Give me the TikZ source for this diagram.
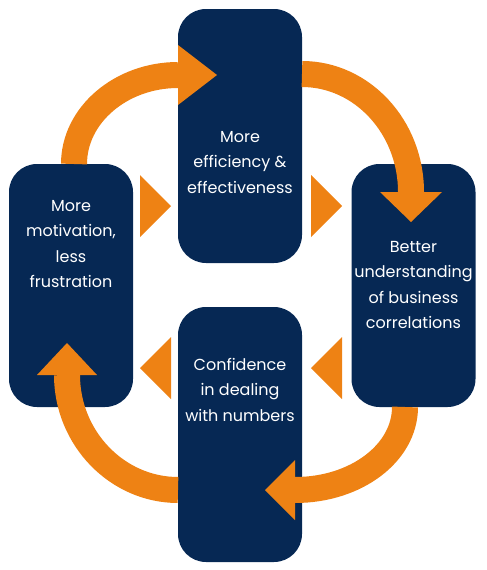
\documentclass[tikz,border=0pt]{standalone}
\usepackage{fontspec}
\setmainfont{Poppins}
\definecolor{navy}{RGB}{6,40,84}
\definecolor{orng}{RGB}{238,130,20}
\begin{document}
\begin{tikzpicture}[x=1pt,y=-1pt,
  box/.style={fill=navy, rounded corners=28pt, minimum width=124pt, inner sep=0pt, draw=none},
  lbl/.style={text=white, font=\fontsize{16}{25.5}\selectfont, align=center, anchor=north, inner sep=0pt},
  shaft/.style={draw=orng, line width=26pt},
  head/.style={fill=orng},
  tri/.style={fill=orng}]
\useasboundingbox (0,0) rectangle (487,570);
% boxes
\node[box, minimum height=254pt] (top) at (240,136) {};
\node[box, minimum height=243pt] (left) at (71,285.5) {};
\node[box, minimum height=243pt] (right) at (413.5,285.5) {};
\node[box, minimum height=255pt] (bottom) at (240,434.5) {};
% labels
\node[lbl] (ttop) at (240,131) {More\\efficiency \&\\effectiveness};
\node[lbl] (tleft) at (71,200) {More\\motivation,\\less\\frustration};
\node[lbl] (tright) at (413.5,241) {Better\\understanding\\of business\\correlations};
\node[lbl] (tbottom) at (240,358) {Confidence\\in dealing\\with numbers};
% small triangles
\fill[tri] (140,175) -- (171,206) -- (140,237) -- cycle;
\fill[tri] (311,175) -- (342,206) -- (311,237) -- cycle;
\fill[tri] (171,337) -- (140,368) -- (171,399) -- cycle;
\fill[tri] (342,337) -- (311,368) -- (342,399) -- cycle;
% curved arrows
\coordinate (a1s) at (74,164);   \coordinate (a1e) at (178,75);
\coordinate (a2s) at (302,74);   \coordinate (a2e) at (411,192);
\coordinate (a3s) at (178,490);  \coordinate (a3e) at (67,375);
\coordinate (a4s) at (405,407);  \coordinate (a4e) at (295,490);
\draw[shaft] (a1s) .. controls (74,115) and (121,75) .. (a1e);
\fill[head] (178,45) -- (217,75) -- (178,105) -- cycle;
\draw[shaft] (a2s) .. controls (362,74) and (411,127) .. (a2e);
\fill[head] (380,192) -- (411,222) -- (442,192) -- cycle;
\draw[shaft] (a3s) .. controls (117,490) and (67,438) .. (a3e);
\fill[head] (37,375) -- (67,343) -- (97,375) -- cycle;
\draw[shaft] (a4s) .. controls (405,453) and (356,490) .. (a4e);
\fill[head] (295,460) -- (265,490) -- (295,520) -- cycle;
\end{tikzpicture}
\end{document}
